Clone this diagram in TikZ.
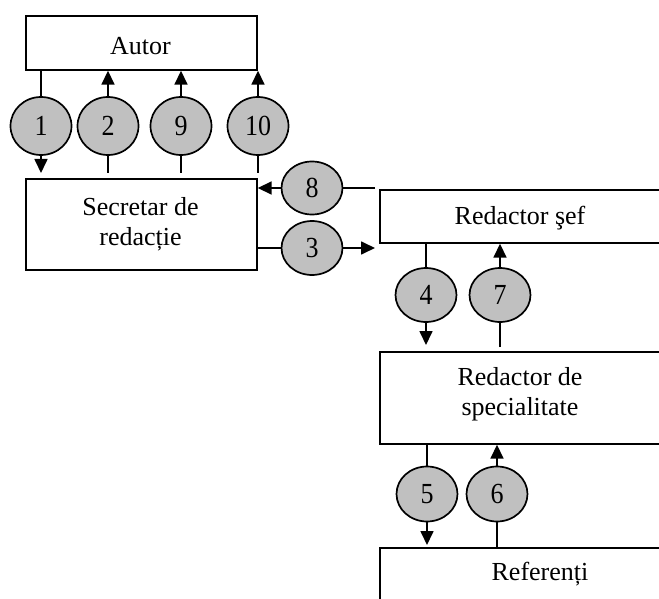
\documentclass[tikz,border=0pt]{standalone}
\usepackage{fontspec}
\usepackage{graphicx}
\setmainfont{Liberation Serif}
\usetikzlibrary{arrows.meta,shapes.geometric}
\definecolor{bubgray}{HTML}{C0C0C0}
\newcommand{\dgt}[1]{\scalebox{1}[1.12]{#1}}
\begin{document}
\begin{tikzpicture}[x=1pt,y=-1pt,
  line width=1.7pt,
  box/.style={draw, rectangle, inner sep=0pt, anchor=north west},
  bub/.style={draw, ellipse, fill=bubgray, inner sep=0pt, minimum width=61pt, minimum height=56pt, font=\fontsize{26}{30}\selectfont},
  lbl/.style={anchor=base, inner sep=0pt, font=\fontsize{26}{30}\selectfont},
  arr/.style={-{Triangle[length=14pt,width=13pt]}}]
\useasboundingbox (0,0) rectangle (659,599);
\clip (0,0) rectangle (659,599);
% boxes
\node[box, minimum width=231pt, minimum height=54pt] (autor) at (25,15) {};
\node[box, minimum width=231pt, minimum height=91pt] (sec) at (25,178) {};
\node[box, minimum width=283pt, minimum height=53pt] (rsef) at (379,189) {};
\node[box, minimum width=283pt, minimum height=92pt] (rspec) at (379,351) {};
\node[box, minimum width=330pt, minimum height=80pt] (ref) at (379,547) {};
% texts
\node[lbl] (autort) at (140.5,55) {Autor};
\node[lbl] (sect1) at (140.5,215) {Secretar de};
\node[lbl] (sect2) at (140.5,245) {redacție};
\node[lbl] (rseft) at (520,225) {Redactor şef};
\node[lbl] (rspect1) at (520,385) {Redactor de};
\node[lbl] (rspect2) at (520,415) {specialitate};
\node[lbl] (reft) at (540,580) {Referenți};
% bubbles
\node[bub, minimum height=58pt] (c1) at (41,126) {\dgt{1}};
\node[bub, minimum height=58pt] (c2) at (108,126) {\dgt{2}};
\node[bub, minimum height=58pt] (c9) at (181,126) {\dgt{9}};
\node[bub, minimum height=58pt] (c10) at (258,126) {\dgt{10}};
\node[bub, minimum height=53pt] (c8) at (312,188) {\dgt{8}};
\node[bub, minimum height=54pt] (c3) at (312,248) {\dgt{3}};
\node[bub, minimum height=54pt] (c4) at (426,295) {\dgt{4}};
\node[bub, minimum height=54pt] (c7) at (500,295) {\dgt{7}};
\node[bub, minimum height=55pt] (c5) at (427,494) {\dgt{5}};
\node[bub, minimum height=55pt] (c6) at (497,494) {\dgt{6}};
% connectors top row
\draw (autor.south -| c1) -- (c1.north);
\draw[arr] (c1.south) -- ([yshift=5pt]sec.north -| c1);
\draw ([yshift=5pt]sec.north -| c2) -- (c2.south);
\draw[arr] (c2.north) -- (autor.south -| c2);
\draw ([yshift=5pt]sec.north -| c9) -- (c9.south);
\draw[arr] (c9.north) -- (autor.south -| c9);
\draw ([yshift=5pt]sec.north -| c10) -- (c10.south);
\draw[arr] (c10.north) -- (autor.south -| c10);
% 8 and 3
\draw ([xshift=-4pt]c8.east -| rsef.west) -- (c8.east);
\draw[arr] (c8.west) -- (c8.west -| sec.east);
\draw (c3.west -| sec.east) -- (c3.west);
\draw[arr] (c3.east) -- ([xshift=-4pt]c3.east -| rsef.west);
% 4 and 7
\draw (rsef.south -| c4) -- (c4.north);
\draw[arr] (c4.south) -- ([yshift=6pt]rspec.north -| c4);
\draw ([yshift=4pt]rspec.north -| c7) -- (c7.south);
\draw[arr] (c7.north) -- (rsef.south -| c7);
% 5 and 6
\draw (rspec.south -| c5) -- (c5.north);
\draw[arr] (c5.south) -- ([yshift=2pt]ref.north -| c5);
\draw (ref.north -| c6) -- (c6.south);
\draw[arr] (c6.north) -- (rspec.south -| c6);
\end{tikzpicture}
\end{document}
